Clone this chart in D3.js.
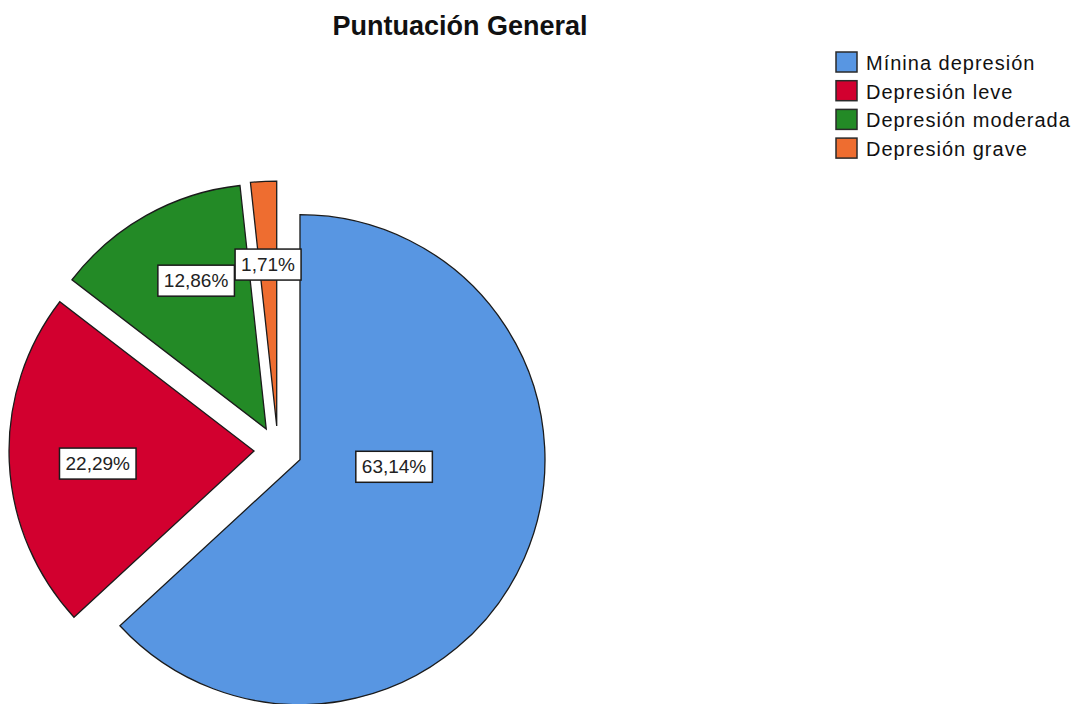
<!DOCTYPE html>
<html>
<head>
<meta charset="utf-8">
<script src="https://cdn.jsdelivr.net/npm/d3@7/dist/d3.min.js"></script>
<style>
  html, body { margin: 0; padding: 0; background: #ffffff; }
  svg { display: block; }
</style>
</head>
<body>
<svg id="chart" width="1078" height="704"></svg>
<script>
// ---- data ----
const categories = ["Mínina depresión", "Depresión leve", "Depresión moderada", "Depresión grave"];
const percentages = [63.14, 22.29, 12.86, 1.71];
const valueLabels = ["63,14%", "22,29%", "12,86%", "1,71%"];
const colors = ["#5896E2", "#D2002F", "#238A26", "#EE6D30"];
const chartTitle = "Puntuación General";

// ---- layout ----
const W = 1078, H = 704;
const cx = 278, cy = 450, R = 245, explode = 24;
const labelPlacement = [
  { frac: 0.385, shift: -19.3 },
  { frac: 0.64, shift: -2 },
  { frac: 0.67, shift: 4 },
  { frac: 0.66, shift: 0 }
];

const svg = d3.select("#chart");
const font = "'Liberation Sans', Arial, sans-serif";

svg.append("text")
  .attr("x", 460).attr("y", 35)
  .attr("text-anchor", "middle")
  .attr("font-family", font)
  .attr("font-weight", "bold")
  .attr("font-size", 27)
  .attr("fill", "#111")
  .text(chartTitle);

const data = categories.map((c, i) => ({ name: c, value: percentages[i], label: valueLabels[i], color: colors[i], idx: i }));

const pie = d3.pie().value(d => d.value).sort(null).startAngle(0).endAngle(2 * Math.PI);
const arcs = pie(data);
const arc = d3.arc().innerRadius(0).outerRadius(R);

const g = svg.append("g").attr("transform", `translate(${cx},${cy})`);

const slices = g.selectAll("g.slice").data(arcs).enter().append("g")
  .attr("class", "slice")
  .attr("transform", d => {
    const a = (d.startAngle + d.endAngle) / 2;
    return `translate(${explode * Math.sin(a)},${-explode * Math.cos(a)})`;
  });

slices.append("path")
  .attr("d", arc)
  .attr("fill", d => d.data.color)
  .attr("stroke", "#1b1b1b")
  .attr("stroke-width", 1.3)
  .attr("stroke-linejoin", "miter");

// labels
slices.each(function (d) {
  const s = d3.select(this);
  const p = labelPlacement[d.data.idx];
  const a = (d.startAngle + d.endAngle) / 2 + p.shift * Math.PI / 180;
  const r = p.frac * R;
  const x = r * Math.sin(a), y = -r * Math.cos(a);
  const lg = s.append("g").attr("transform", `translate(${x},${y})`);
  const t = lg.append("text")
    .attr("text-anchor", "middle")
    .attr("dominant-baseline", "central")
    .attr("font-family", font)
    .attr("font-size", 19)
    .attr("fill", "#222")
    .text(d.data.label);
  const bb = t.node().getBBox();
  lg.insert("rect", "text")
    .attr("x", bb.x - 6).attr("y", bb.y - 5)
    .attr("width", bb.width + 12).attr("height", bb.height + 10)
    .attr("fill", "#ffffff")
    .attr("stroke", "#1b1b1b")
    .attr("stroke-width", 1.5);
});

// legend
const legend = svg.append("g").attr("transform", "translate(836,52)");
const items = legend.selectAll("g.item").data(data).enter().append("g")
  .attr("class", "item")
  .attr("transform", (d, i) => `translate(0,${i * 28.7})`);
items.append("rect")
  .attr("x", 0).attr("y", 0)
  .attr("width", 21).attr("height", 20)
  .attr("fill", d => d.color)
  .attr("stroke", "#2a2a2a")
  .attr("stroke-width", 1.5);
items.append("text")
  .attr("x", 30).attr("y", 11)
  .attr("dominant-baseline", "central")
  .attr("font-family", font)
  .attr("font-size", 20)
  .attr("letter-spacing", 1)
  .attr("fill", "#111")
  .text(d => d.name);
</script>
</body>
</html>
